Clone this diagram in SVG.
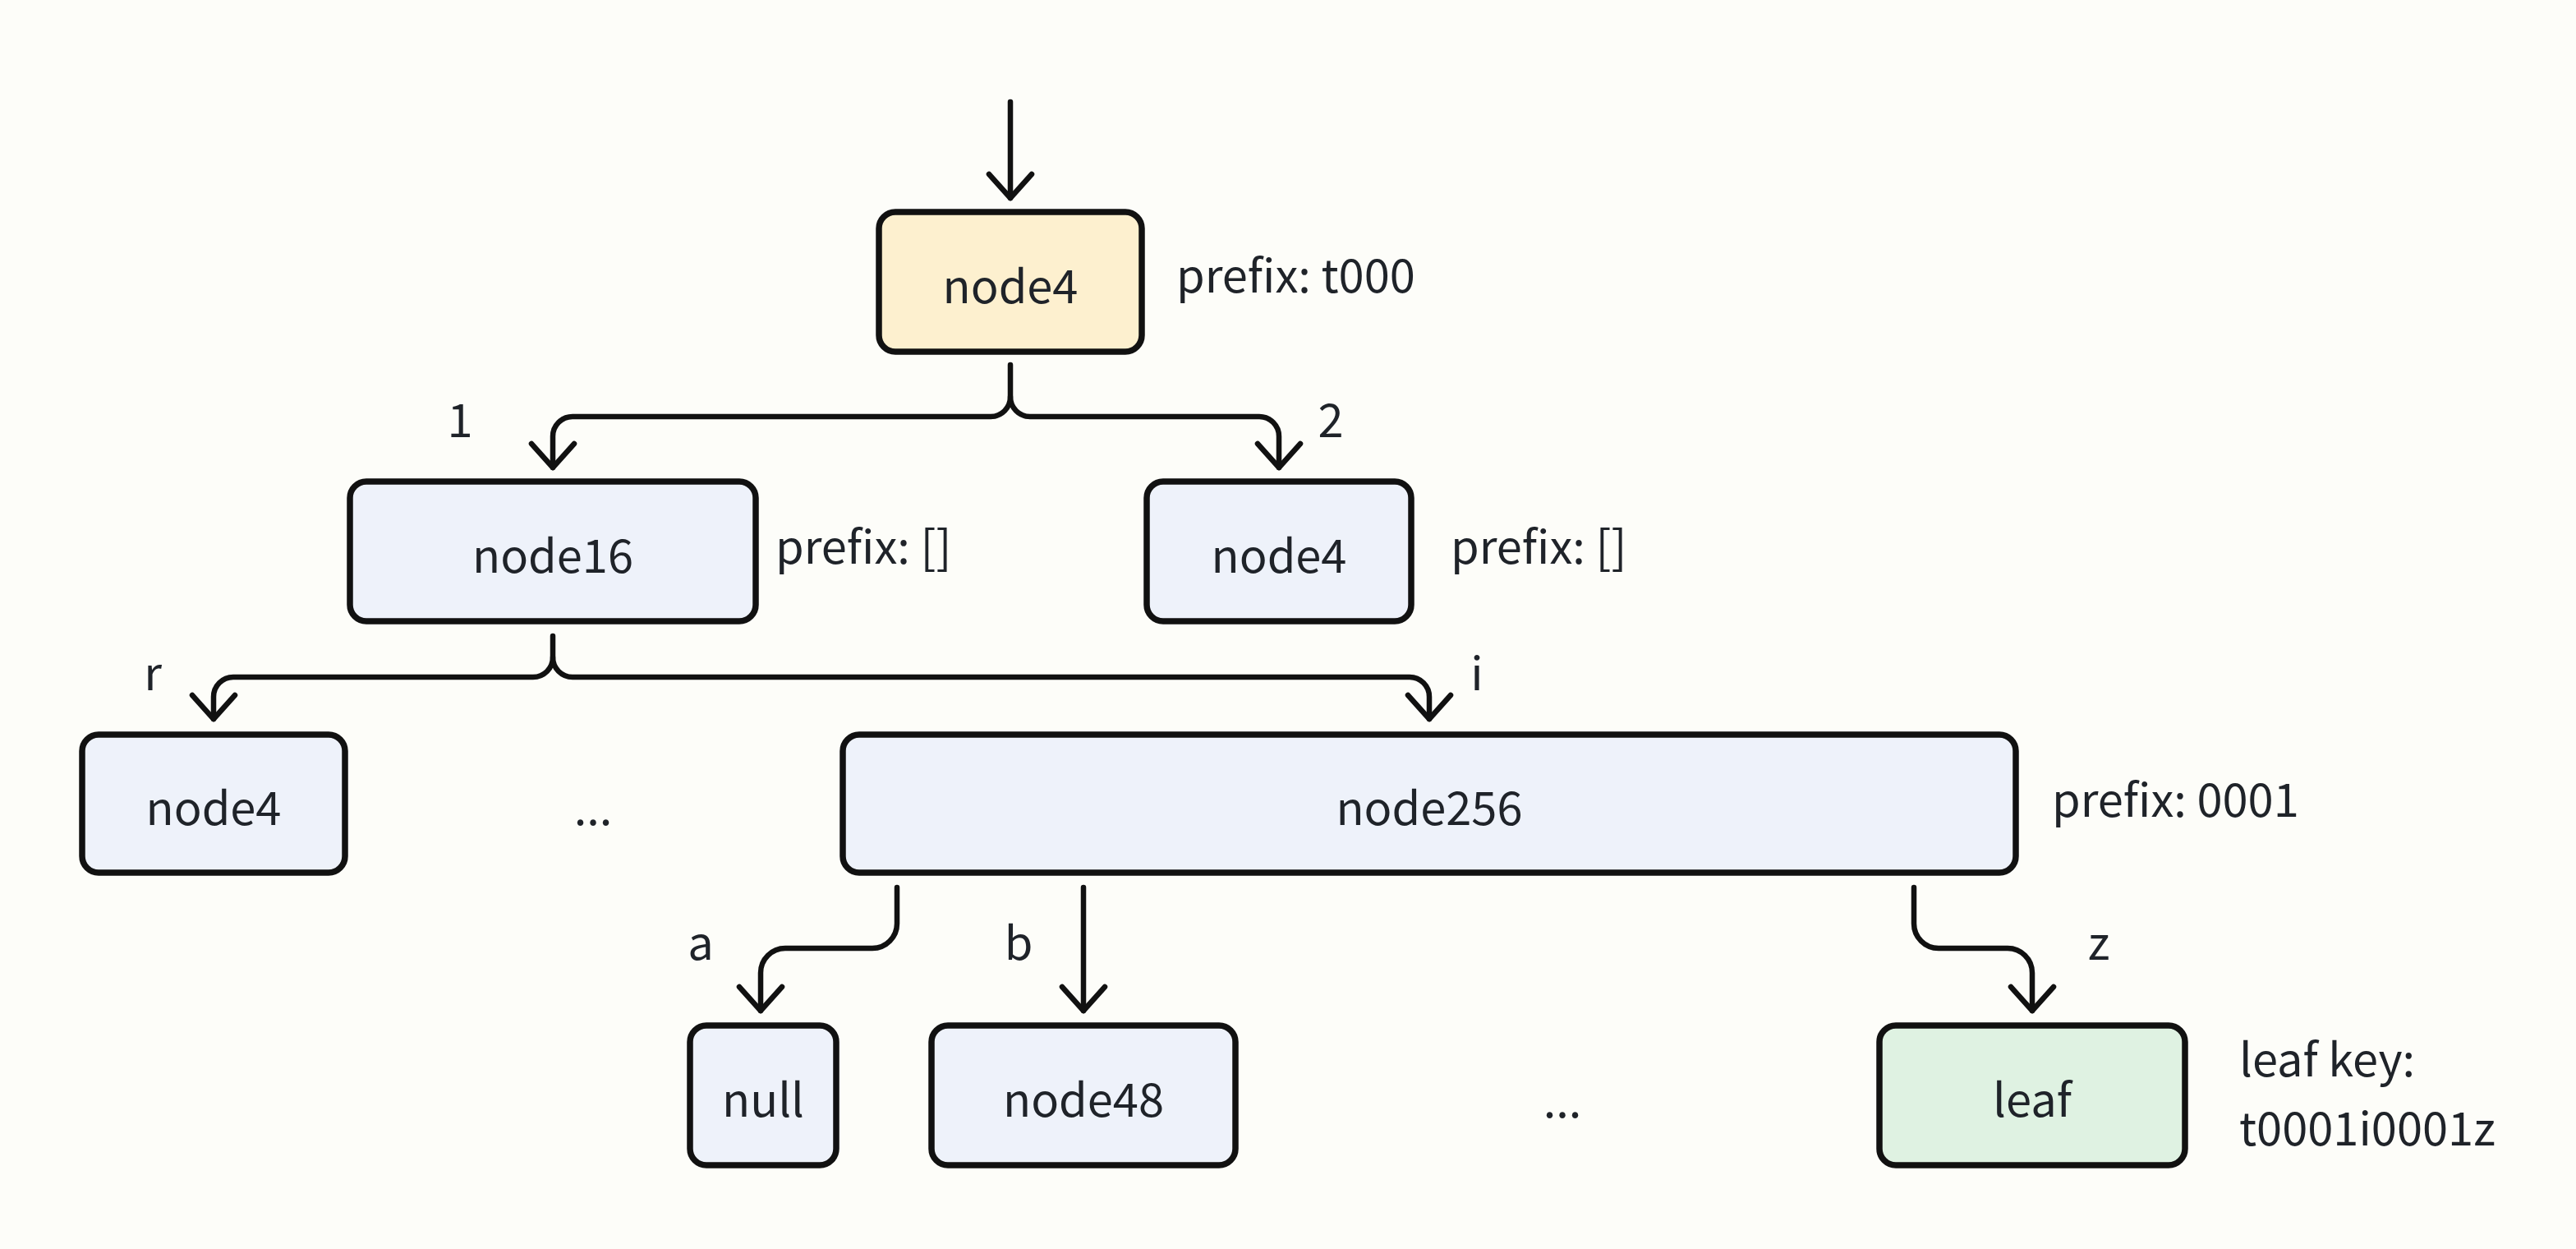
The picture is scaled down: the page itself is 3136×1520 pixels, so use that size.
<svg xmlns="http://www.w3.org/2000/svg" width="3136" height="1520" viewBox="0 0 3136 1520">
<defs>
<style>
.bg{fill:#fdfdf9}
.box{stroke:#111;stroke-width:7.5}
.blue{fill:#eef2fa}
.yellow{fill:#fdf0cf}
.green{fill:#dff2e2}
.t{font-family:"Noto Sans CJK SC","Source Sans Pro","Noto Sans",sans-serif;font-size:56px;fill:#1f2329}
.c{text-anchor:middle}
.ln{fill:none;stroke:#111;stroke-width:6.5;stroke-linecap:round;stroke-linejoin:round}
</style>
<marker id="arr" markerUnits="userSpaceOnUse" markerWidth="80" markerHeight="80" viewBox="-40 -40 80 80" refX="0" refY="0" orient="auto" overflow="visible">
<path d="M-29,-26 L0,0 L-29,26" fill="none" stroke="#111" stroke-width="6.5" stroke-linecap="round" stroke-linejoin="round"/>
</marker>
</defs>
<rect class="bg" x="0" y="0" width="3136" height="1520"/>

<g id="connectors">
<path class="ln" d="M1230,124 V241" marker-end="url(#arr)"/>
<path class="ln" d="M1230,444 V483 A24,24 0 0 1 1206,507 H697 A24,24 0 0 0 673,531 V569" marker-end="url(#arr)"/>
<path class="ln" d="M1230,483 A24,24 0 0 0 1254,507 H1533 A24,24 0 0 1 1557,531 V569" marker-end="url(#arr)"/>
<path class="ln" d="M673,774 V800 A24,24 0 0 1 649,824 H284 A24,24 0 0 0 260,848 V875" marker-end="url(#arr)"/>
<path class="ln" d="M673,800 A24,24 0 0 0 697,824 H1716 A24,24 0 0 1 1740,848 V875" marker-end="url(#arr)"/>
<path class="ln" d="M1092,1080 V1124 A30,30 0 0 1 1062,1154 H956 A30,30 0 0 0 926,1184 V1230" marker-end="url(#arr)"/>
<path class="ln" d="M1319,1080 V1230" marker-end="url(#arr)"/>
<path class="ln" d="M2330,1080 V1124 A30,30 0 0 0 2360,1154 H2444 A30,30 0 0 1 2474,1184 V1230" marker-end="url(#arr)"/>
</g>

<g id="n-root">
<rect class="box yellow" x="1070" y="258" width="320" height="170" rx="20"/>
<text class="t c" x="1230" y="369">node4</text>
</g>
<text class="t" x="1432" y="356">prefix: t000</text>

<text class="t c" x="560" y="532">1</text>
<text class="t c" x="1620" y="532">2</text>

<g id="n-node16">
<rect class="box blue" x="426" y="586" width="494" height="170" rx="20"/>
<text class="t c" x="673" y="697">node16</text>
</g>
<text class="t" x="944" y="686">prefix: []</text>

<g id="n-node4b">
<rect class="box blue" x="1396" y="586" width="322" height="170" rx="20"/>
<text class="t c" x="1557" y="697">node4</text>
</g>
<text class="t" x="1766" y="686">prefix: []</text>

<text class="t c" x="186" y="840">r</text>
<text class="t c" x="1798" y="840">i</text>

<g id="n-node4c">
<rect class="box blue" x="100" y="894" width="320" height="168" rx="20"/>
<text class="t c" x="260" y="1004">node4</text>
</g>
<text class="t c" x="722" y="1004">...</text>

<g id="n-node256">
<rect class="box blue" x="1026" y="894" width="1428" height="168" rx="20"/>
<text class="t c" x="1740" y="1004">node256</text>
</g>
<text class="t" x="2498" y="994">prefix: 0001</text>

<text class="t c" x="853" y="1168">a</text>
<text class="t c" x="1240" y="1168">b</text>
<text class="t c" x="2555" y="1168">z</text>

<g id="n-null">
<rect class="box blue" x="840" y="1248" width="178" height="170" rx="20"/>
<text class="t c" x="929" y="1359">null</text>
</g>

<g id="n-node48">
<rect class="box blue" x="1134" y="1248" width="370" height="170" rx="20"/>
<text class="t c" x="1319" y="1359">node48</text>
</g>
<text class="t c" x="1902" y="1360">...</text>

<g id="n-leaf">
<rect class="box green" x="2288" y="1248" width="372" height="170" rx="20"/>
<text class="t c" x="2474" y="1359">leaf</text>
</g>
<text class="t" x="2726" y="1310">leaf key:</text>
<text class="t" x="2726" y="1394">t0001i0001z</text>
</svg>
